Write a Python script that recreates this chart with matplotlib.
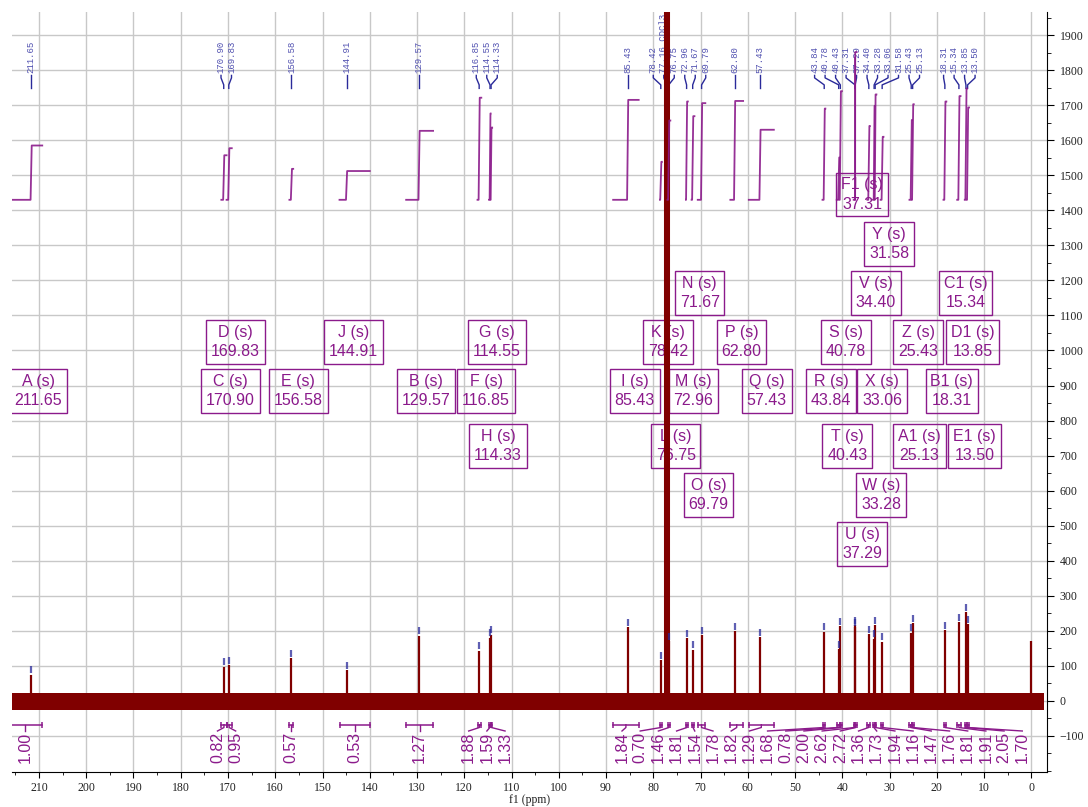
import matplotlib
matplotlib.use("Agg")
import matplotlib.pyplot as plt
from matplotlib.ticker import MultipleLocator, FixedLocator
import numpy as np

# picked peaks (ppm), their heights and top labels
peak_ppm = [211.65, 170.90, 169.83, 156.58, 144.91, 129.57, 116.85, 114.55, 114.33,
            85.43, 78.42, 77.16, 76.75, 72.96, 71.67, 69.79, 62.80, 57.43,
            43.84, 40.78, 40.43, 37.31, 37.29, 34.40, 33.28, 33.06, 31.58,
            25.43, 25.13, 18.31, 15.34, 13.85, 13.50]
peak_height = [75, 97, 101, 121, 88, 186, 143, 180, 189,
               210, 116, None, 170, 179, 146, 187, 199, 181,
               197, 148, 213, 216, 210, 191, 178, 216, 169,
               194, 222, 201, 224, 253, 218]
peak_label = ["211.65", "170.90", "169.83", "156.58", "144.91", "129.57", "116.85", "114.55", "114.33",
              "85.43", "78.42", "77.16 CDCl3", "76.75", "72.96", "71.67", "69.79", "62.80", "57.43",
              "43.84", "40.78", "40.43", "37.31", "37.29", "34.40", "33.28", "33.06", "31.58",
              "25.43", "25.13", "18.31", "15.34", "13.85", "13.50"]

# solvent triplet (off scale) and reference peak
solvent_ppm = [77.48, 77.16, 76.84]
solvent_height = [9000, 9000, 9000]
ref_ppm = [0.1]
ref_height = [170]

# baseline noise envelope
noise_ppm = [216.0, -2.6]
noise_lo = [-27, -27]
noise_hi = [22, 22]

# integrals: region start, end, rise position, value
int_start = [216.5, 171.4, 170.3, 157.0, 146.4, 132.3, 117.2, 114.75, 114.44,
             88.5, 78.6, 77.0, 73.1, 71.9, 70.6, 63.7, 59.8,
             44.2, 41.2, 40.6, 37.6, 37.3, 34.7, 33.5, 33.17, 31.9,
             25.8, 25.28, 18.6, 15.7, 14.1, 13.68]
int_end = [209.3, 170.3, 169.2, 156.2, 140.0, 126.6, 116.4, 114.44, 114.1,
           83.1, 78.2, 76.4, 72.7, 71.3, 69.0, 61.0, 54.5,
           43.6, 40.6, 40.1, 37.3, 37.0, 34.2, 33.17, 32.8, 31.3,
           25.28, 24.9, 18.0, 15.0, 13.68, 13.2]
int_peak = [211.65, 170.90, 169.83, 156.58, 144.91, 129.57, 116.85, 114.55, 114.33,
            85.43, 78.42, 76.75, 72.96, 71.67, 69.79, 62.80, 57.43,
            43.84, 40.78, 40.43, 37.31, 37.29, 34.40, 33.28, 33.06, 31.58,
            25.43, 25.13, 18.31, 15.34, 13.85, 13.50]
int_value = [1.00, 0.82, 0.95, 0.57, 0.53, 1.27, 1.88, 1.59, 1.33,
             1.84, 0.70, 1.46, 1.81, 1.54, 1.78, 1.82, 1.29,
             1.68, 0.78, 2.00, 2.62, 2.72, 1.36, 1.73, 1.94, 1.16,
             1.47, 1.76, 1.81, 1.91, 2.05, 1.70]

# multiplet boxes: letter, shift, row of the box
box_name = ["A", "C", "D", "E", "J", "B", "F", "G", "H", "I", "K", "L", "M", "N", "O", "P",
            "Q", "R", "S", "T", "U", "V", "W", "X", "Y", "Z", "A1", "B1", "C1", "D1", "E1", "F1"]
box_shift = [211.65, 170.90, 169.83, 156.58, 144.91, 129.57, 116.85, 114.55, 114.33,
             85.43, 78.42, 76.75, 72.96, 71.67, 69.79, 62.80, 57.43, 43.84, 40.78, 40.43,
             37.29, 34.40, 33.28, 33.06, 31.58, 25.43, 25.13, 18.31, 15.34, 13.85, 13.50, 37.31]
box_row = [0, 0, 1, 0, 1, 0, 0, 1, -1, 0, 1, -1, 0, 2, -2, 1,
           0, 0, 1, -1, -3, 2, -2, 0, 3, 1, -1, 0, 2, 1, -1, 4]

RED = "#800000"
PURPLE = "#8b1a8b"
BLUE = "#2a2a9a"
XMIN, XMAX = 215.7, -3.3
YMIN, YMAX = -203, 1966
INT_BASE = 1430
INT_SCALE = 155


def spread(targets, gap, lo, hi):
    t = np.asarray(targets, float)
    order = list(np.argsort(-t, kind="stable"))
    groups = [[i] for i in order]

    def first(g):
        f = t[g].mean() + gap * (len(g) - 1) / 2
        f = min(f, hi)
        return max(f, lo + gap * (len(g) - 1))

    merged = True
    while merged:
        merged = False
        for k in range(len(groups) - 1):
            a, b = groups[k], groups[k + 1]
            if first(b) > first(a) - gap * (len(a) - 1) - gap:
                groups[k] = a + b
                del groups[k + 1]
                merged = True
                break
    out = np.empty(len(t))
    for g in groups:
        f = first(g)
        for j, i in enumerate(g):
            out[i] = f - gap * j
    return out


fig = plt.figure(figsize=(10.88, 8.07), dpi=100)
ax = fig.add_axes([12 / 1088, 35 / 807, 1035 / 1088, 760 / 807])
ax.set_xlim(XMIN, XMAX)
ax.set_ylim(YMIN, YMAX)

# grid + axes style
ax.set_axisbelow(True)
ax.xaxis.set_major_locator(MultipleLocator(10))
ax.xaxis.set_minor_locator(MultipleLocator(5))
ax.yaxis.set_major_locator(FixedLocator(np.arange(-100, 2000, 100)))
ax.yaxis.set_minor_locator(MultipleLocator(50))
ax.grid(True, which="major", color="#c8c8c8", lw=1)
for s in ["top", "left"]:
    ax.spines[s].set_visible(False)
ax.yaxis.tick_right()
ax.tick_params(axis="x", which="major", length=4, labelsize=8.5, pad=3)
ax.tick_params(axis="x", which="minor", length=2.5)
ax.tick_params(axis="y", which="major", length=5, labelsize=8.5, pad=4)
ax.tick_params(axis="y", which="minor", length=3)
for lab in ax.get_xticklabels() + ax.get_yticklabels():
    lab.set_fontfamily("Liberation Serif")
    lab.set_color("#222222")
ax.set_xlabel("f1 (ppm)", fontfamily="Liberation Serif", fontsize=8.5, labelpad=0, color="#222222")

# multiplet boxes
for name, shift, row in zip(box_name, box_shift, box_row):
    y = 885 + 140 * row - (17 if row < 0 else 0)
    ax.annotate(f"{name} (s)\n{shift:.2f}", xy=(shift, y), xytext=(5, 0),
                textcoords="offset points", ha="center", va="center",
                multialignment="center", linespacing=1.35,
                fontsize=11.5, fontfamily="Liberation Sans", color=PURPLE,
                bbox=dict(boxstyle="square,pad=0.3", fc="none", ec=PURPLE, lw=1),
                annotation_clip=False, clip_on=True, zorder=2)

# spectrum: noise band, peaks, solvent, reference
ax.fill_between(noise_ppm, noise_lo, noise_hi, color=RED, lw=0, zorder=3)
ph = [h for h in peak_height if h is not None]
pp = [p for p, h in zip(peak_ppm, peak_height) if h is not None]
ax.vlines(pp, 0, ph, color=RED, lw=1.6, zorder=4)
ax.vlines(ref_ppm, 0, ref_height, color=RED, lw=1.6, zorder=4)
ax.vlines(solvent_ppm, 0, solvent_height, color=RED, lw=2.2, zorder=4)
ax.vlines(pp, np.array(ph) + 4, np.array(ph) + 24, color=BLUE, alpha=0.75, lw=1.6, zorder=4)

# integral curves
for s, e, p, v in zip(int_start, int_end, int_peak, int_value):
    top = INT_BASE + INT_SCALE * v
    w = min(0.12, (s - p) * 0.8, (p - e) * 0.8)
    ax.plot([s, p + w, p - w, e], [INT_BASE, INT_BASE, top, top],
            color=PURPLE, lw=1.3, alpha=0.9, zorder=5)

# integral brackets and labels
int_center = [(s + e) / 2 for s, e in zip(int_start, int_end)]
int_lab_x = spread(int_center, 3.85, 0.2, 214.0)
for s, e, c, lx, v in zip(int_start, int_end, int_center, int_lab_x, int_value):
    ax.plot([s, e], [-68, -68], color=PURPLE, lw=1.1, zorder=5)
    ax.vlines([s, e], -60, -77, color=PURPLE, lw=1.1, zorder=5)
    ax.plot([c, c, lx], [-68, -76, -86], color=PURPLE, lw=1.0, zorder=5)
    ax.text(lx, -89, f"{v:.2f}", rotation=90, ha="center", va="top",
            fontsize=11.5, fontfamily="Liberation Sans", color=PURPLE, zorder=5)

# peak labels at top
lab_x = spread(peak_ppm, 2.22, -2.0, 215.0)
for p, lx, txt in zip(peak_ppm, lab_x, peak_label):
    ax.plot([lx, lx, p, p], [1785, 1778, 1758, 1748], color=BLUE, lw=1.0, zorder=3)
    ax.text(lx, 1793, txt, rotation=90, ha="center", va="bottom",
            fontsize=6.5, fontfamily="Liberation Mono", color="#5050b0", zorder=3)

fig.savefig("out.png", dpi=100)
